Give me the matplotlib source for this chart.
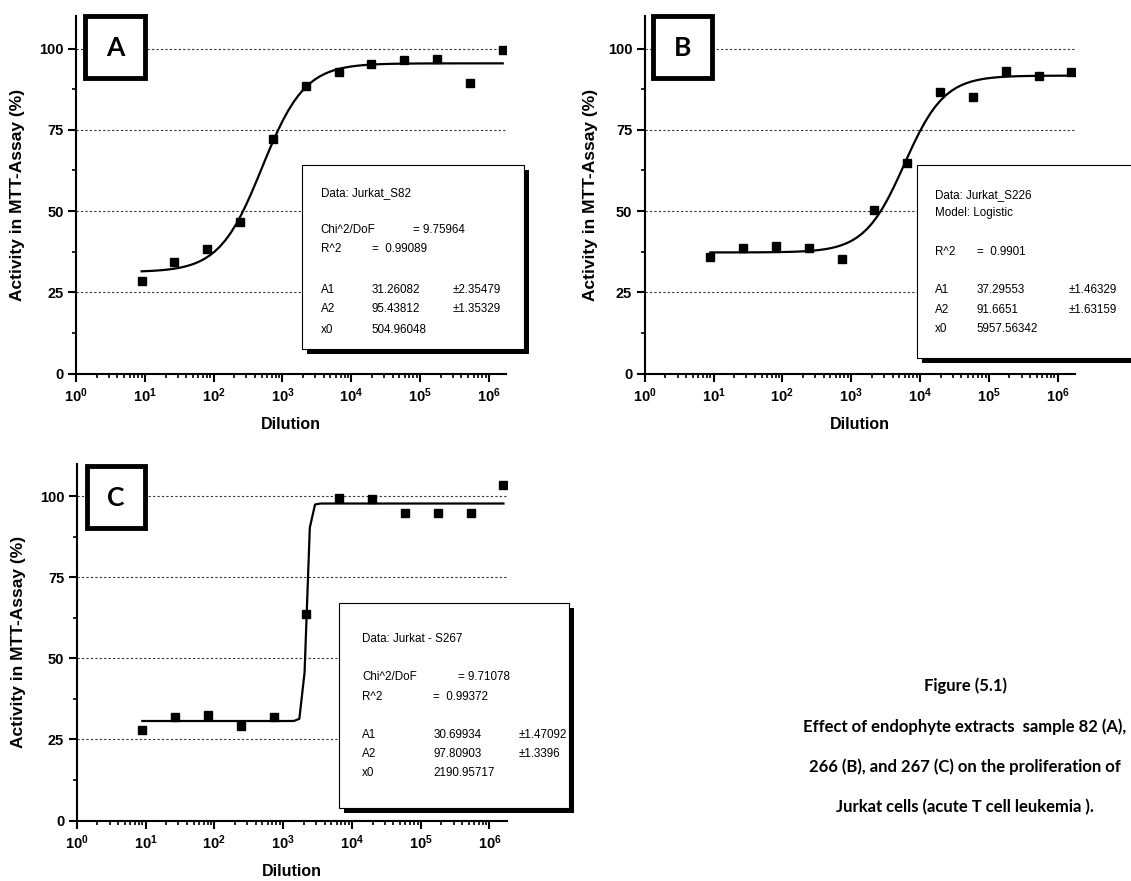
import numpy as np
import matplotlib
matplotlib.use("Agg")
import matplotlib.pyplot as plt
from matplotlib.patches import Rectangle
from matplotlib.ticker import FixedLocator, LogLocator, NullFormatter

plt.rcParams['font.family'] = ['Liberation Sans', 'DejaVu Sans']
plt.rcParams['mathtext.fontset'] = 'custom'
plt.rcParams['mathtext.rm'] = 'Liberation Sans'
plt.rcParams['mathtext.bf'] = 'Liberation Sans:bold'

# 3-fold dilution series used for all three extracts
dilution = [9, 27, 81, 243, 729, 2187, 6561, 19683, 59049, 177147, 531441, 1594323]

# activity in MTT assay (%)
act_82 = [28.6, 34.3, 38.3, 46.6, 72.1, 88.4, 92.7, 95.2, 96.4, 96.9, 89.3, 99.4]
act_226 = [36.0, 38.6, 39.2, 38.6, 35.4, 50.2, 64.7, 86.6, 85.2, 93.0, 91.6, 92.8]
act_267 = [27.8, 31.9, 32.5, 29.2, 31.8, 63.6, 99.4, 99.2, 94.9, 95.0, 94.8, 103.4]

# logistic fit parameters (A1, A2, x0 from the fit reports, power estimated)
fit_82 = (31.26082, 95.43812, 504.96048, 1.4)
fit_226 = (37.29553, 91.6651, 5957.56342, 1.5)
fit_267 = (30.69934, 97.80903, 2190.95717, 19.0)

y_ticks = [0, 25, 50, 75, 100]
x_decades = [0, 1, 2, 3, 4, 5, 6]

caption = ['Figure (5.1)',
           'Effect of endophyte extracts  sample 82 (A),',
           '266 (B), and 267 (C) on the proliferation of',
           'Jurkat cells (acute T cell leukemia ).']

W, H = 1131, 881


def logistic(x, A1, A2, x0, p):
    return A2 + (A1 - A2) / (1 + (x / x0) ** p)


def add_rect(fig, x0, y0, x1, y1, **kw):
    # rectangle given in pixel coordinates (origin top-left)
    r = Rectangle((x0 / W, 1 - y1 / H), (x1 - x0) / W, (y1 - y0) / H,
                  transform=fig.transFigure, **kw)
    fig.add_artist(r)
    return r


def add_text(fig, x, y, s, **kw):
    fig.text(x / W, 1 - y / H, s, **kw)


def shadow_box(fig, x0, y0, x1, y1, off=5):
    add_rect(fig, x0 + off, y0 + off, x1 + off, y1 + off,
             facecolor='black', edgecolor='none', zorder=5)
    add_rect(fig, x0, y0, x1, y1, facecolor='white', edgecolor='black',
             linewidth=0.8, zorder=6)


def letter_box(fig, x0, y0, x1, y1, letter):
    inset = 2.4
    add_rect(fig, x0 + inset, y0 + inset, x1 - inset, y1 - inset,
             facecolor='white', edgecolor='black', linewidth=3.5, zorder=6)
    add_text(fig, (x0 + x1) / 2, (y0 + y1) / 2 + 1, letter, ha='center', va='center',
             fontsize=19, fontweight='bold', family=['Lato', 'DejaVu Sans'], zorder=7)


def draw_panel(ax, act, fit, ylab_x):
    xs = np.logspace(np.log10(dilution[0]), np.log10(dilution[-1]), 70)
    ax.plot(xs, logistic(xs, *fit), color='black', linewidth=1.6, zorder=3)
    ax.plot(dilution, act, 's', color='black', markersize=5.5, zorder=4)

    ax.set_xscale('log')
    ax.set_xlim(1, 10 ** 6.25)
    ax.set_ylim(0, 110)
    for v in y_ticks[1:]:
        ax.axhline(v, color='#333333', linewidth=0.8, linestyle=(0, (2, 2)), zorder=1)

    for s in ['top', 'right']:
        ax.spines[s].set_visible(False)
    for s in ['left', 'bottom']:
        ax.spines[s].set_linewidth(1.5)

    ax.set_yticks(y_ticks)
    ax.set_yticklabels([str(v) for v in y_ticks], fontweight='bold')
    ax.yaxis.set_minor_locator(FixedLocator([12.5, 37.5, 62.5, 87.5]))
    ax.set_xticks([10.0 ** k for k in x_decades])
    ax.set_xticklabels([r'$\mathbf{10^{%d}}$' % k for k in x_decades])
    ax.xaxis.set_minor_locator(LogLocator(base=10, subs=np.arange(2, 10), numticks=20))
    ax.xaxis.set_minor_formatter(NullFormatter())
    ax.tick_params(which='major', length=6, width=1.5, direction='out',
                   labelsize=10.5, pad=3)
    ax.tick_params(which='minor', length=3, width=1.2, direction='out')

    ax.set_ylabel('Activity in MTT-Assay (%)', fontsize=12.5, fontweight='bold')
    ax.yaxis.set_label_coords(ylab_x, 0.5)
    ax.yaxis.label.set_verticalalignment('center')
    ax.set_xlabel('Dilution', fontsize=11.5, fontweight='bold')
    ax.xaxis.set_label_coords(0.5, -0.143)
    ax.xaxis.label.set_verticalalignment('center')
    ax.set_facecolor('none')


fig = plt.figure(figsize=(W / 100, H / 100), dpi=100)

ax_a = fig.add_axes([76 / W, 1 - 373.7 / H, 430 / W, 357.7 / H])
ax_b = fig.add_axes([644.7 / W, 1 - 373.7 / H, 430 / W, 357.7 / H])
ax_c = fig.add_axes([76.7 / W, 1 - 820.5 / H, 430 / W, 356.5 / H])

draw_panel(ax_a, act_82, fit_82, -0.135)
draw_panel(ax_b, act_226, fit_226, -0.127)
draw_panel(ax_c, act_267, fit_267, -0.1365)

letter_box(fig, 82.7, 13.3, 147.3, 80.7, 'A')
letter_box(fig, 650.7, 13.3, 714, 80.7, 'B')
letter_box(fig, 85, 464, 147.3, 530.7, 'C')

# fit report boxes
fs = 8.4
shadow_box(fig, 302.3, 165, 524, 349.3)
for x, y, s in [(320.7, 193.3, 'Data: Jurkat_S82'),
                (320.7, 230, 'Chi^2/DoF'), (412.7, 230, '= 9.75964'),
                (320.7, 249, 'R^2'), (371.7, 249, '=  0.99089'),
                (320.7, 290, 'A1'), (371.7, 290, '31.26082'), (452.7, 290, '\u00b12.35479'),
                (320.7, 309, 'A2'), (371.7, 309, '95.43812'), (452.7, 309, '\u00b11.35329'),
                (320.7, 330, 'x0'), (371.7, 330, '504.96048')]:
    add_text(fig, x, y, s, fontsize=fs, va='center', zorder=7)

shadow_box(fig, 916.7, 165, 1145, 358)
for x, y, s in [(935, 195, 'Data: Jurkat_S226'), (935, 213.3, 'Model: Logistic'),
                (935, 251.7, 'R^2'), (976.7, 251.7, '=  0.9901'),
                (935, 290, 'A1'), (976.7, 290, '37.29553'), (1068.3, 290, '\u00b11.46329'),
                (935, 310, 'A2'), (976.7, 310, '91.6651'), (1068.3, 310, '\u00b11.63159'),
                (935, 329.3, 'x0'), (976.7, 329.3, '5957.56342')]:
    add_text(fig, x, y, s, fontsize=fs, va='center', zorder=7)

shadow_box(fig, 339, 603.3, 569, 808)
for x, y, s in [(362.3, 639, 'Data: Jurkat - S267'),
                (362.3, 677.3, 'Chi^2/DoF'), (458.3, 677.3, '= 9.71078'),
                (362.3, 696.7, 'R^2'), (433.3, 696.7, '=  0.99372'),
                (362.3, 735, 'A1'), (433.3, 735, '30.69934'), (518.3, 735, '\u00b11.47092'),
                (362.3, 754, 'A2'), (433.3, 754, '97.80903'), (518.3, 754, '\u00b11.3396'),
                (362.3, 773.3, 'x0'), (433.3, 773.3, '2190.95717')]:
    add_text(fig, x, y, s, fontsize=fs, va='center', zorder=7)

# caption, centred lines
cap = dict(fontsize=12, fontweight='bold', family=['Lato', 'DejaVu Sans'],
           va='center', ha='center')
for line, y in zip(caption, [686, 727, 767, 807]):
    add_text(fig, 965, y, line, **cap)

fig.savefig('out.png', dpi=100)
